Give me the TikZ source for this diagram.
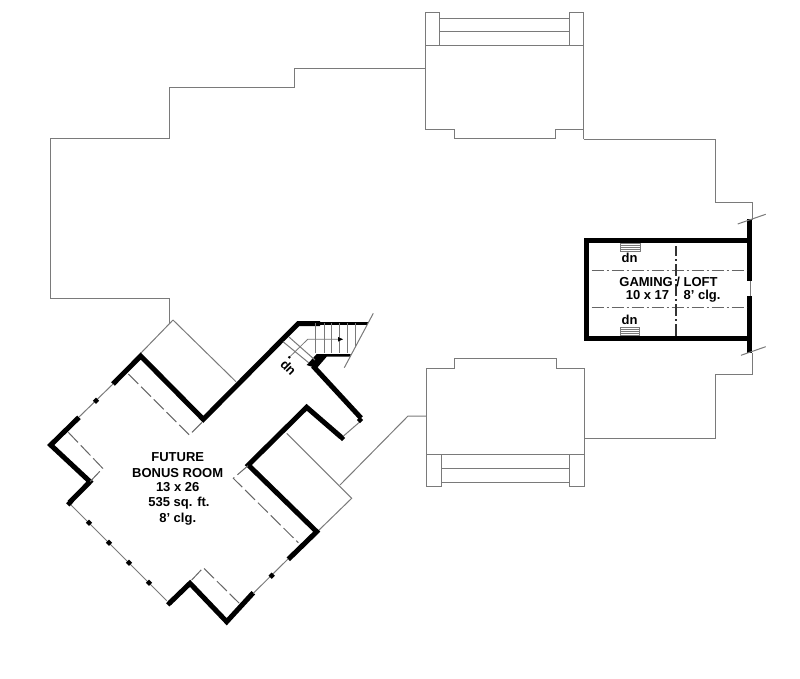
\documentclass[tikz,border=0pt]{standalone}
\usepackage{fontspec}
\setmainfont{Liberation Sans}
\tikzset{
	thinline/.style={draw=black!52, line width=1pt, line join=miter},
	wall/.style={draw=black, line width=5pt, line join=miter},
	dashline/.style={draw=black!60, line width=1pt, dash pattern=on 12pt off 3pt on 2pt off 3pt},
	roofdash/.style={draw=black!60, line width=1pt, dash pattern=on 14pt off 4pt},
	jamb/.style={fill=black, draw=none, minimum size=4.5pt, inner sep=0pt, rotate=45},
	roomtext/.style={font=\bfseries\fontsize{13}{13}\selectfont, inner sep=0pt, text=black, anchor=base},
}
\begin{document}
\begin{tikzpicture}[x=1pt, y=-1pt]
	\useasboundingbox (0,0) rectangle (800,679);

	\draw [thinline] (169.5,323.5) -- (169.5,298) -- (50,298) -- (50,139) 
		-- (169.5,139) -- (169.5,88) -- (294,88) -- (294,69) -- (425,69);
	\draw [thinline] (425,130) -- (425,13) -- (439.5,13) -- (439.5,46);
	\draw [thinline] (583.7,139) -- (583.7,13) -- (569,13) -- (569,46);
	\draw [thinline] (425,46) -- (583.7,46);
	\draw [thinline] (439.5,18.5) -- (569,18.5);
	\draw [thinline] (439.5,32) -- (569,32);
	\draw [thinline] (425,130) -- (454.5,130) -- (454.5,139) -- (555.5,139) 
		-- (555.5,130) -- (583.7,130);
	\draw [thinline] (583.7,139.3) -- (715,139.3) -- (715,203) -- (752,203) -- (752,220);

	\draw [thinline] (752,353) -- (752,374.5) -- (715,374.5) -- (715,438.5) -- (584,438.5);
	\draw [thinline] (584,368) -- (584,486) -- (569,486) -- (569,454);
	\draw [thinline] (426.5,454) -- (426.5,486) -- (441,486) -- (441,454);
	\draw [thinline] (426.5,454) -- (584,454);
	\draw [thinline] (441,468) -- (569,468);
	\draw [thinline] (441,482) -- (569,482);
	\draw [thinline] (426.5,454) -- (426.5,368) -- (454.5,368) -- (454.5,358.5) 
		-- (556,358.5) -- (556,368) -- (584,368);
	\draw [thinline] (426.5,416) -- (408,416) -- (340,485);

	\draw [wall] (749,240) -- (586,240) -- (586,338) -- (749,338);
	\draw [wall, line width=5.5pt] (749.5,219) -- (749.5,281);
	\draw [wall, line width=5.5pt] (749.5,296) -- (749.5,353);
	\draw [thinline] (750,281) -- (750,296);
	\draw [thinline] (737.7,224) -- (765.7,214.3);
	\draw [thinline] (741,355.3) -- (765.7,346.7);
	\draw [dashline] (591.7,270.7) -- (746.7,270.7);
	\draw [dashline] (591.7,307.7) -- (746.7,307.7);
	\draw [dashline, draw=black!80, line width=1.4pt] (676,335.5) -- (676,246);

	\foreach \ya in {243,245,247,249,251} {
		\draw [thinline, line width=0.6pt] (620,\ya) -- (640,\ya);
	}
	\foreach \ya in {327,329,331,333,335} {
		\draw [thinline, line width=0.6pt] (620,\ya) -- (639,\ya);
	}
	\draw [thinline] (620,243) -- (620,252);
	\draw [thinline] (640,243) -- (640,252);
	\draw [thinline] (620,327) -- (620,336);
	\draw [thinline] (639,327) -- (639,336);

	\draw [thinline] (173,320) -- (236,381.7);
	\draw [thinline] (173,320) -- (140.7,353.3);
	\draw [thinline] (286.7,433.3) -- (351.7,498.3) -- (317.3,531.7);

	\draw [wall] (113,384) -- (140.7,356) -- (203.3,419.3) -- (298.3,323.5) -- (320,323.5);
	\draw [wall, line width=3pt] (320,323.5) -- (368.3,323.5);
	\draw [wall] (313,366) -- (361,418);
	\draw [wall] (341,437) -- (306.7,407.3) -- (248.3,465) -- (316.7,531.7) -- (288.3,559.3);
	\draw [wall] (253.3,592.7) -- (226.7,621.7) -- (190,583.3) -- (169.3,603.3);
	\draw [wall] (69.3,502.7) -- (90,481.7) -- (50.7,445) -- (79,417.3);

	\fill (306.7,365) -- (316.7,354) -- (350.7,354) -- (350.7,356.5) -- (326.7,356.7) 
		-- (316.7,368.3) -- cycle;

	\foreach \xa/\yb in {315.7/353,324/353,331.7/353,339.3/353,347.3/353,355/347} {
		\draw [thinline] (\xa,323) -- (\xa,\yb);
	}
	\draw [thinline] (373.3,313.3) -- (344.3,367.7);
	\draw [thinline] (283,341.7) -- (309,363);
	\draw [thinline] (289,337) -- (315,360);
	\draw [thinline, line width=0.8pt] (289.3,357.3) -- (307.7,339.3) -- (341.7,339.3);
	\fill (338,337) -- (343,339.3) -- (338,341.6) -- cycle;
	\fill (289.3,357.3) circle (1.4);

	\draw [thinline] (360,421.7) -- (342.7,436.7);
	\draw [thinline] (288,559) -- (253.3,593.3);
	\draw [thinline] (166.7,600.7) -- (69.3,503.3);
	\draw [thinline] (79,417) -- (113,384);

	\foreach \xa/\yb [count=\n] in {149/582.7, 129/562.7, 109/542.7, 89/522.7, 96/400.7, 271.7/575.7, 69.3/503.3, 169.3/603.3, 360/420, 342/438} {
		\node [jamb] (jamb\n) at (\xa,\yb) {};
	}

	\draw [roofdash] (128.3,374) -- (189.3,435) -- (202.7,421.7);
	\draw [roofdash] (68.3,432.3) -- (102.7,468.3) -- (90,481.7);
	\draw [roofdash] (248,465.7) -- (233.3,478.3) -- (298.3,542.7);
	\draw [roofdash] (191.7,580) -- (203.3,567.7) -- (239.3,603.3);

	\node [roomtext] (future) at (177.7,461.7) {FUTURE};
	\node [roomtext] (bonus) at (177.7,477.7) {BONUS ROOM};
	\node [roomtext] (size1) at (177.7,491.7) {13 x 26};
	\node [roomtext] (area) at (179,506) {535 sq. ft.};
	\node [roomtext] (clg1) at (177.7,522.3) {8' clg.};
	\node [roomtext, anchor=center] (dn1) at (288.5,367.5) [rotate=-45] {dn};

	\node [roomtext] (gaming) at (668.5,286) {GAMING / LOFT};
	\node [roomtext] (size2) at (647.5,299.3) {10 x 17};
	\node [roomtext] (clg2) at (702,299.3) {8' clg.};
	\node [roomtext] (dn2) at (629.5,262.7) {dn};
	\node [roomtext] (dn3) at (629.5,324.3) {dn};
\end{tikzpicture}
\end{document}
